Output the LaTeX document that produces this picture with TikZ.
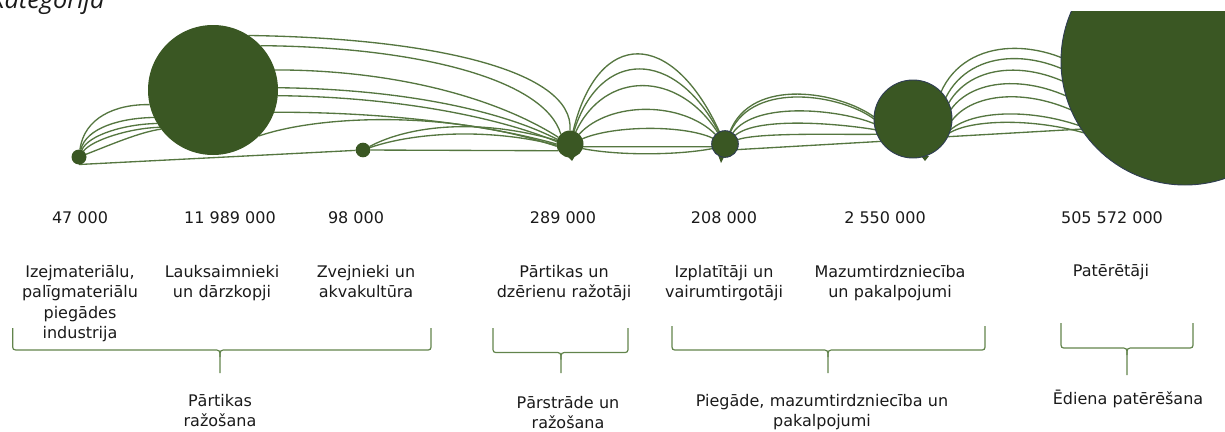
\documentclass[tikz,border=0pt]{standalone}
\usepackage{fontspec}
\setmainfont{DejaVu Sans}
\newfontfamily\titlefont{Open Sans}
\usetikzlibrary{backgrounds,calc}
\definecolor{circfill}{HTML}{3A5723}
\definecolor{circline}{HTML}{2F3D52}
\definecolor{arcgreen}{HTML}{557640}
\definecolor{bracegreen}{HTML}{62844C}
\definecolor{txt}{HTML}{1A1A1A}
\begin{document}
\begin{tikzpicture}[x=0.75pt,y=-0.75pt,
  bubble/.style={circle, fill=circfill, inner sep=0pt, outer sep=0pt, minimum size=#1},
  rim/.style={draw=circline, line width=0.7pt},
  flow/.style={draw=arcgreen, line width=1pt},
  brc/.style={draw=bracegreen, line width=0.9pt, line join=round},
  num/.style={font=\fontsize{12pt}{15.4pt}\selectfont, text=txt, inner sep=0pt, anchor=base},
  lbl/.style={num, align=center, text width=220pt}]
\useasboundingbox (0,0) rectangle (1225,432);

% title (cut at the top edge)
\node[font=\titlefont\itshape\fontsize{19pt}{22pt}\selectfont, text=txt, inner sep=0pt, anchor=base west] (title) at (-8,8.3) {kategorija};

% circles
\node[bubble=11.25pt] (c1) at (79,157) {};
\node[bubble=97.5pt] (c2) at (213,90) {};
\node[bubble=11pt] (c3) at (363,150) {};
\node[bubble=20.25pt] (c4) at (570,144) {};
\node[bubble=20pt, rim] (c5) at (725,144) {};
\node[bubble=58.5pt, rim] (c6) at (913,119) {};
\begin{scope}
  \clip (0,11) rectangle (1225,432);
  \node[bubble=186pt, rim] (c7) at (1185,61) {};
\end{scope}

\begin{scope}[on background layer]
% small tails
\fill[circfill] (567,156) -- (575,156) -- (572,161) -- cycle;
\fill[circfill] (718,155) -- (725,155) -- (721,163) -- cycle;
\fill[circfill] (921,156) -- (929,156) -- (925,161) -- cycle;
% C1 -> C2
\draw[flow] (c1) .. controls (84,118) and (115,104) .. (c2.193);
\draw[flow] (c1) .. controls (86,128) and (120,118) .. (c2.205);
\draw[flow] (c1) .. controls (88,135) and (125,124) .. (c2.211);
\draw[flow] (c1) .. controls (92,140) and (130,128) .. (c2.215);
\draw[flow] (c1) .. controls (110,145) and (140,132) .. (c2.217);
% C1 -> C3 -> C4
\draw[flow] (c1.south) -- (c3);
\draw[flow] (c3) -- (c4.210);
% C2 -> C4
\draw[flow] (c2.57) .. controls (430,38) and (575,70) .. (c4.north);
\draw[flow] (c2.43) .. controls (420,47) and (545,80) .. (c4.133);
\draw[flow] (c2.18) .. controls (400,70) and (500,100) .. (c4.150);
\draw[flow] (c2.2) .. controls (400,89) and (500,110) .. (c4.160);
\draw[flow] (c2.-5) .. controls (400,97) and (500,118) .. (c4.170);
\draw[flow] (c2.-20) .. controls (400,112) and (500,128) .. (c4.180);
\draw[flow] (c2.-45) .. controls (320,115) and (450,110) .. (c4.190);
% C3 -> C4
\draw[flow] (c3) .. controls (410,125) and (480,118) .. (c4.165);
\draw[flow] (c3) .. controls (415,132) and (490,128) .. (c4.185);
% C4 -> C5
\draw[flow] (c4) .. controls (598,28) and (672,28) .. (c5);
\draw[flow] (c4) .. controls (600,48) and (675,48) .. (c5);
\draw[flow] (c4) .. controls (605,70) and (678,70) .. (c5);
\draw[flow] (c4) .. controls (610,101) and (682,101) .. (c5);
\draw[flow] (c4) .. controls (615,125) and (685,125) .. (c5);
\draw[flow] (c4.-12) -- (c5.192);
\draw[flow] (c4.-20) .. controls (620,156) and (680,155) .. (c5.200);
% C5 -> C6
\draw[flow] (c5) .. controls (752,76) and (840,92) .. (c6.177);
\draw[flow] (c5) .. controls (754,80) and (842,95) .. (c6.180);
\draw[flow] (c5) .. controls (756,100) and (842,110) .. (c6.187);
\draw[flow] (c5) .. controls (758,116) and (842,124) .. (c6.196);
\draw[flow] (c5) .. controls (760,132) and (842,135) .. (c6.203);
\draw[flow] (c5.-25) -- (c6.215);
% C6 -> C7
\draw[flow] (c6.44) .. controls (966,36) and (1045,36) .. ($(c7)+(-85,19)$);
\draw[flow] (c6.33) .. controls (971,46.5) and (1045,46.5) .. ($(c7)+(-85,31)$);
\draw[flow] (c6.24) .. controls (974,59) and (1045,59) .. ($(c7)+(-85,43)$);
\draw[flow] (c6.14) .. controls (976,74) and (1045,74) .. ($(c7)+(-85,55)$);
\draw[flow] (c6.-2) .. controls (977,88) and (1045,88) .. ($(c7)+(-85,65)$);
\draw[flow] (c6.-16) .. controls (976,108) and (1045,108) .. ($(c7)+(-85,73)$);
\draw[flow] (c6.-21) .. controls (974,118) and (1045,118) .. ($(c7)+(-85,77)$);
\draw[flow] (c6.-27) -- ($(c7)+(-85,67)$);
\end{scope}

% numbers
\node[num] (n1) at (80,223) {47 000};
\node[num] (n2) at (230,223) {11 989 000};
\node[num] (n3) at (356,223) {98 000};
\node[num] (n4) at (563,223) {289 000};
\node[num] (n5) at (724,223) {208 000};
\node[num] (n6) at (885,223) {2 550 000};
\node[num] (n7) at (1112,223) {505 572 000};

% category labels
\node[lbl] (l1) at (80,277) {Izejmateriālu,\\palīgmateriālu\\piegādes\\industrija};
\node[lbl] (l2) at (222,277) {Lauksaimnieki\\un dārzkopji};
\node[lbl] (l3) at (366,277) {Zvejnieki un\\akvakultūra};
\node[lbl] (l4) at (564,277) {Pārtikas un\\dzērienu ražotāji};
\node[lbl] (l5) at (724,277) {Izplatītāji un\\vairumtirgotāji};
\node[lbl] (l6) at (890,277) {Mazumtirdzniecība\\un pakalpojumi};
\node[lbl] (l7) at (1111,276) {Patērētāji};

% braces
\draw[brc] (12.7,328) -- (12.7,344) .. controls (12.7,350) .. (19,350) -- (213,350) .. controls (220,350) .. (220,357) -- (220,373);
\draw[brc] (220,357) .. controls (220,350) .. (227,350) -- (425,350) .. controls (431,350) .. (431,344) -- (431,328);
\draw[brc] (493,328) -- (493,346.5) .. controls (493,352.5) .. (499,352.5) -- (554,352.5) .. controls (561,352.5) .. (561,359.5) -- (561,373);
\draw[brc] (561,359.5) .. controls (561,352.5) .. (568,352.5) -- (622,352.5) .. controls (628,352.5) .. (628,346.5) -- (628,328);
\draw[brc] (672,326) -- (672,344) .. controls (672,350) .. (678,350) -- (821,350) .. controls (828,350) .. (828,357) -- (828,373);
\draw[brc] (828,357) .. controls (828,350) .. (835,350) -- (979,350) .. controls (985,350) .. (985,344) -- (985,326);
\draw[brc] (1061,323) -- (1061,342) .. controls (1061,348) .. (1067,348) -- (1120,348) .. controls (1127,348) .. (1127,355) -- (1127,375);
\draw[brc] (1127,355) .. controls (1127,348) .. (1134,348) -- (1187,348) .. controls (1193,348) .. (1193,342) -- (1193,323);

% group labels
\node[lbl] (g1) at (220,406) {Pārtikas\\ražošana};
\node[lbl] (g2) at (568,408) {Pārstrāde un\\ražošana};
\node[lbl] (g3) at (822,406) {Piegāde, mazumtirdzniecība un\\pakalpojumi};
\node[lbl] (g4) at (1128,404) {Ēdiena patērēšana};
\end{tikzpicture}
\end{document}
